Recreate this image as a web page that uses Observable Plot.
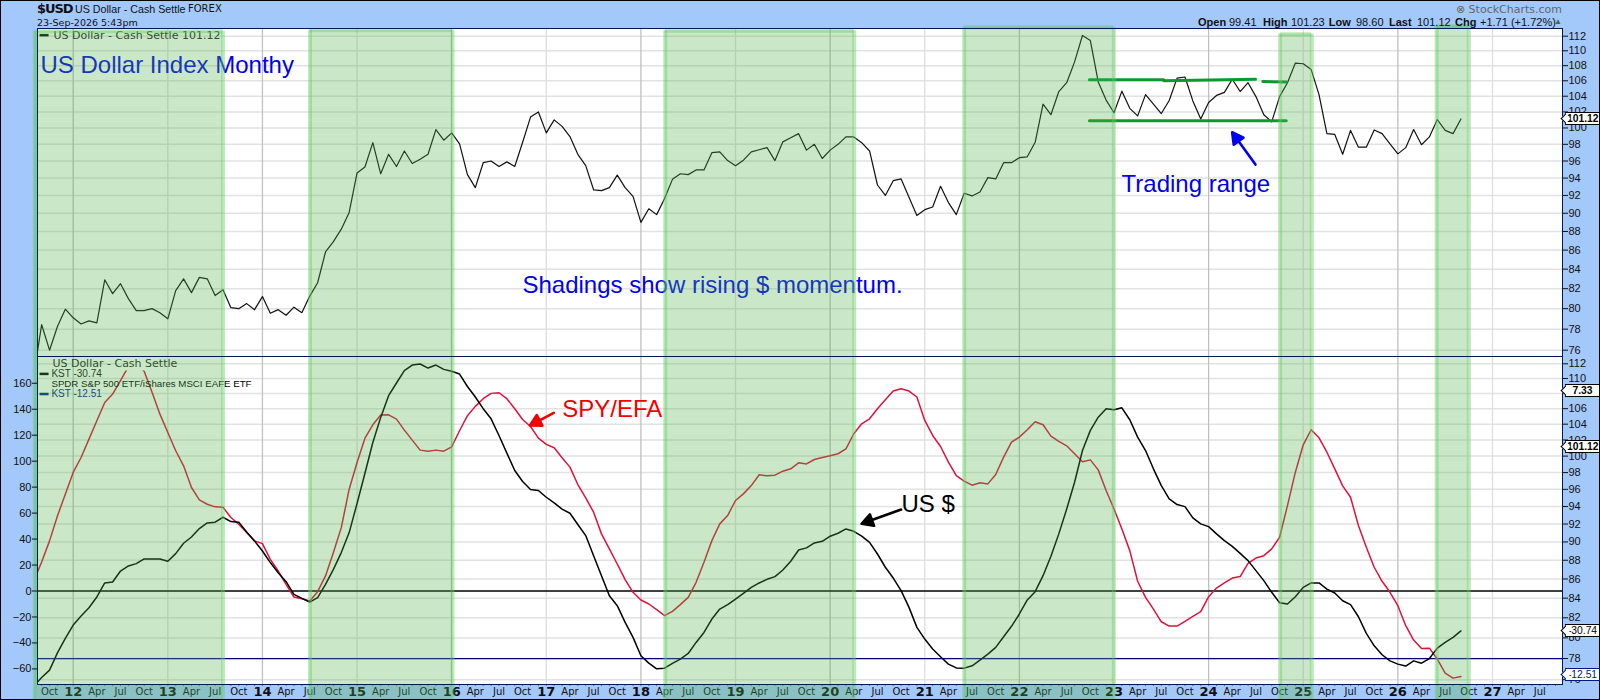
<!DOCTYPE html>
<html>
<head>
<meta charset="utf-8">
<script src="https://cdn.jsdelivr.net/npm/d3@7"></script>
<script src="https://cdn.jsdelivr.net/npm/@observablehq/plot@0.6"></script>
<style>
html,body{margin:0;padding:0;background:#a3c8fa;}
#chart{position:relative;width:1600px;height:700px;background:#a3c8fa;overflow:hidden;font-family:"Liberation Sans",sans-serif;color:#111;}
#chart svg{position:absolute;left:0;background:transparent;}
.hd{position:absolute;white-space:nowrap;}
.tag{position:absolute;left:1565px;width:31px;height:11px;line-height:11px;padding:0 1px;background:#fff;border:1px solid #000;font-size:10.3px;text-align:center;white-space:nowrap;}
.tag::before{content:"";position:absolute;left:-4px;top:2px;width:6px;height:6px;background:#fff;border-left:1px solid;border-bottom:1px solid;border-color:inherit;transform:rotate(45deg);}
#edge{position:absolute;inset:0;border:1px solid #000;pointer-events:none;}
</style>
</head>
<body>
<div id="chart"><div id="edge"></div></div>
<script>
// Monthly readings, Aug 2011 to Sep 2026
const firstMonth = 2011 + 7 / 12;
const usdIndex = [
  73.7,78.43,76.0,78.26,79.95,
  79.1,78.5,78.8,78.6,82.9,81.5,82.5,81.0,79.8,79.8,80.0,79.6,
  79.0,81.8,83.0,81.6,83.15,83.0,81.3,81.9,80.1,80.0,80.5,79.9,
  81.2,79.55,79.9,79.35,80.15,79.6,81.25,82.6,85.8,86.9,88.25,90.1,
  94.6,95.3,98.2,94.5,96.8,95.35,97.2,95.7,96.2,96.8,99.8,98.5,
  99.4,98.05,94.4,92.9,95.8,96.0,95.35,95.9,95.35,98.25,101.35,102.0,
  99.4,101.0,100.2,98.95,96.8,95.45,92.65,92.55,92.9,94.35,92.9,91.9,
  89.0,90.5,89.85,91.65,93.85,94.5,94.4,94.95,94.95,97.0,97.1,96.05,
  95.45,96.1,97.1,97.35,97.6,96.05,98.3,98.8,99.3,97.3,98.0,96.3,
  97.3,98.0,98.9,98.9,98.2,97.2,93.2,92.0,93.7,93.9,91.8,89.75,
  90.4,90.7,93.05,91.2,89.85,92.25,91.95,92.4,94.05,93.9,95.8,95.8,
  96.4,96.5,98.25,103.0,101.65,104.6,105.75,108.5,112.1,111.4,105.85,103.5,
  101.9,104.65,102.45,101.5,104.2,103.0,101.8,103.45,106.35,106.5,103.4,101.1,
  103.2,104.1,104.5,106.2,104.6,105.75,103.95,101.65,100.75,103.95,105.75,108.35,
  108.25,107.5,104.2,99.3,99.2,96.8,99.7,97.65,97.65,99.75,99.3,98.05,
  96.85,97.6,99.8,97.95,98.9,101.05,99.7,99.3,101.12
];
const usdKst = [
  -73.3,-66.6,-60.9,-47.6,-36.5,
  -26.2,-19.3,-12.9,-4.6,6.2,6.9,15.4,19.3,21.1,24.7,24.7,24.7,
  22.9,28.8,36.8,41.6,48.1,52.4,53,56.8,53.5,53,45.5,38.6,
  30.8,21.9,14.1,7.2,-2.6,-5.7,-8.5,-5.1,5.1,16.7,29.6,45,
  67.4,90.7,114.4,133.7,150.4,160.2,169.7,174,174.8,171.7,174,170.7,
  169.2,167.1,157.5,149.4,140.4,132.6,119.8,106.2,92.8,84.3,78.1,77.4,
  72.2,67.9,63,59.9,51.2,42.7,27.2,11.8,-3.6,-11.3,-24.2,-35.7,
  -49.9,-55.5,-59.9,-59.4,-55.8,-52.4,-48.1,-39.6,-31.9,-21.6,-13.9,-10.5,
  -6.2,-1.8,2.8,6.2,9,11.1,16.2,22.9,31.6,33.2,37,38.3,
  42.2,44.5,47.8,46,42.2,37.5,28.5,18.3,10,0.3,-12.6,-28,
  -37,-44.7,-50.6,-56.3,-59.2,-59.4,-57.6,-53.2,-48.6,-43.4,-35.2,-27.2,
  -17.7,-6.9,-0.5,11.8,26.7,44,63.2,83.8,108.2,123.7,133.9,140.4,
  139.6,141.1,131.9,118.5,108.2,94.1,81.2,71,66.6,65,56.3,51.7,
  49.6,44,38.8,34.4,29,23.4,15.7,8,-1,-9,-10,-4.4,
  2.8,6.2,6.2,1.5,-1.5,-7.5,-10.5,-19.8,-32.6,-42.2,-49.1,-53.8,
  -56.3,-57.8,-53.8,-55.6,-52,-44,-39.6,-35.7,-30.74
];
// SPY/EFA KST as it lies against the left-hand axis
const spyEfaKst = [
  7.7,22.4,38.6,57.8,74.6,
  91.3,102.8,117,131.1,145.2,151.7,162,172.8,174.8,169.2,153,136.2,
  122.1,108,96.4,79.7,70.2,66.8,64.8,64.5,56.6,51.4,45,38.6,
  36.5,24.4,15.4,5.1,-4.6,-5.9,-7.7,-0.5,11.6,29.6,48.8,78.4,
  99,117.7,128,135.5,135.7,132.4,123.9,116.2,108.5,107.7,108.5,107.7,
  111,123.4,135,142.2,148.1,152.2,152.7,148.1,140.4,132.1,126.7,117.7,
  112.9,110.3,102.6,95.4,82,71.7,60.7,44,32.4,20.8,8.7,-1,
  -6.9,-10,-14.4,-19,-15.7,-10.5,-4.9,6.7,22.1,38.8,51.7,58.1,
  69.7,74.8,81.2,89.5,88.7,89.2,92.3,94.1,98.7,97.9,101.3,102.8,
  104.1,105.7,109.5,121.1,128.8,132.6,140.4,147.3,154,155.8,154,149.4,
  131.4,119.8,111.3,99.2,88.9,84.6,81.5,83.3,82.5,89.7,103.1,114.7,
  118.5,124.2,130.3,128,119.3,115.2,111.8,105.7,99.5,101,93.3,77.4,
  63.2,47.8,31.1,7.5,-4.9,-13.9,-23.7,-27,-27,-23.4,-19.5,-15.9,
  -4.4,2.3,6.2,10,11.1,21.3,25.4,27.2,32.4,41.4,65.8,91.5,
  112.6,124.2,118,106.9,94.1,81,72.2,50.4,33.7,18.3,7.5,-1,
  -11.3,-26.7,-37.8,-44.2,-44,-52.4,-63.2,-67.1,-65.8
];
const shadingStart = [2011.594,2014.503,2018.257,2021.417,2024.756,2026.41];
const shadingEnd   = [2013.583,2016.009,2020.254,2022.998,2025.09,2026.75];
const shadingTopPrice = [112.69,112.83,112.75,113.26,112.28,113.4];
const yearTicks = d3.range(2012,2028);
const yearLabels = yearTicks.map(y => String(y % 100));
const monthNames = {3:"Apr",6:"Jul",9:"Oct"};
const priceTicks = d3.range(76,113,2);
const kstTicks = d3.range(-60,161,20);
const rangeSegments = [
  [[2022.74,106.15],[2023.526,106.15]],
  [[2023.526,106.0],[2024.495,106.2]],
  [[2024.573,105.9],[2024.82,105.85]],
  [[2022.74,100.9],[2024.82,100.9]]
];
const kstZero = 0, kstLower = -52;

const n = usdIndex.length;
const rows = d3.range(n).map(i => ({t:firstMonth+i/12, usd:usdIndex[i], kst:usdKst[i], spy:spyEfaKst[i]}));
const allMonths = d3.range(-5,193).map(i => 2012+i/12).filter(t => t>2011.63 && t<2027.73);
const monthOf = t => Math.round((t-Math.floor(t+1e-6))*12);
const xDomain = [2011.6227,2027.74];
const W = 1600, L = 37, R = 1562;
const sans = "Liberation Sans, sans-serif", dejavu = "DejaVu Sans, sans-serif";
const shades = shadingStart.map((s,i) => ({s, e:shadingEnd[i], top:shadingTopPrice[i]}));
const shadeFill = "#4eb248", shadeOpacity = 0.30, borderColor = "#62cc62", shadeBorderOpacity = 0.42;

const isEven = y => y % 2 === 0;
const grids = [
  Plot.ruleX(yearTicks.filter(isEven),{stroke:"#c0c0c0",strokeWidth:1.3}),
  Plot.ruleX(yearTicks.filter(y=>!isEven(y)),{stroke:"#dedede",strokeWidth:1.3})
];
function shadeBorders(yTop, yBottom, withTop){
  const m = [
    Plot.ruleX(shades,{x:d=>d.s,y1:yTop,y2:yBottom,stroke:borderColor,strokeOpacity:shadeBorderOpacity,strokeWidth:4}),
    Plot.ruleX(shades,{x:d=>d.e,y1:yTop,y2:yBottom,stroke:borderColor,strokeOpacity:shadeBorderOpacity,strokeWidth:4})
  ];
  if (withTop) m.push(Plot.ruleY(shades,{y:d=>d.top,x1:d=>d.s,x2:d=>d.e,stroke:borderColor,strokeOpacity:shadeBorderOpacity,strokeWidth:4}));
  return m;
}
function arrow(x,y,length,rotate,color){
  return Plot.vector([0],{x:()=>x,y:()=>y,length,rotate,anchor:"start",stroke:color,fill:color,strokeWidth:2.6,
    shape:{draw(c,l){const h=11,w=6;c.moveTo(0,0);c.lineTo(0,-l+h);c.moveTo(0,-l);c.lineTo(w,-l+h);c.lineTo(-w,-l+h);c.closePath();}}});
}
const big = {fontFamily:sans,fontSize:24,textAnchor:"start"};
const note = (label,x,y,fill) => Plot.text([label],{x:()=>x,y:()=>y,text:d=>d,fill,...big});
const small = (label,x,y,fill,font,size) => Plot.text([label],{x:()=>x,y:()=>y,text:d=>d,fill,fontFamily:font,fontSize:size,textAnchor:"start"});

// top panel: price
const topPanel = Plot.plot({
  width:W,height:356,marginTop:28,marginBottom:0,marginLeft:L,marginRight:W-R,
  x:{domain:xDomain,axis:null,label:null},
  y:{type:"log",domain:[75.41,113.07],axis:null,label:null},
  marks:[
    Plot.frame({fill:"#fff"}),
    Plot.gridY(priceTicks,{stroke:"#e2e2e2",strokeOpacity:1,strokeWidth:1.5}),
    ...grids,
    Plot.line(rows,{x:"t",y:"usd",stroke:"#111",strokeWidth:1.2,clip:"frame"}),
    ...rangeSegments.map(s => Plot.line(s,{x:d=>d[0],y:d=>d[1],stroke:"#0b9a30",strokeWidth:3})),
    note("US Dollar Index Monthy",2011.654,108.05,"#0000f0"),
    note("Trading range",2023.08,93.26,"#0000f0"),
    note("Shadings show rising $ momentum.",2016.748,82.3,"#0000f0"),
    arrow(2024.495,95.58,39.8,-35.8,"#0000f0"),
    Plot.ruleY([112.14],{x1:2011.65,x2:2011.745,stroke:"#111",strokeWidth:2.5}),
    small("US Dollar - Cash Settle 101.12",2011.792,112.14,"#222",dejavu,11),
    Plot.rect(shades,{x1:d=>d.s,x2:d=>d.e,y1:d=>d.top,y2:75.41,fill:shadeFill,fillOpacity:shadeOpacity}),
    ...shadeBorders(d=>d.top,75.41,true),
    Plot.frame({stroke:"#001a4d",strokeWidth:1}),
    Plot.axisY(priceTicks,{anchor:"right",label:null,tickSize:5,tickPadding:1,tickFormat:d=>d,fontFamily:sans,fontSize:11,fill:"#111"})
  ]
});
topPanel.style.top = "0px";

// bottom panel, price grid behind the indicators
const priceGrid = Plot.plot({
  width:W,height:344,marginTop:0,marginBottom:16,marginLeft:L,marginRight:W-R,
  x:{domain:xDomain,axis:null,label:null},
  y:{type:"log",domain:[75.55,113.01],axis:null,label:null},
  marks:[
    Plot.frame({fill:"#fff"}),
    Plot.gridY(priceTicks,{stroke:"#e2e2e2",strokeOpacity:1,strokeWidth:1.5}),
    ...grids,
    Plot.axisY(priceTicks,{anchor:"right",label:null,tickSize:5,tickPadding:1,tickFormat:d=>d,fontFamily:sans,fontSize:11,fill:"#111"})
  ]
});
priceGrid.style.top = "356px";

// bottom panel, indicators
const kstBottom = -72, kstTop = 180.6, shadeFoot = -84.5;
const kstPanel = Plot.plot({
  width:W,height:344,marginTop:0,marginBottom:16,marginLeft:L,marginRight:W-R,
  x:{domain:xDomain,axis:null,label:null},
  y:{domain:[kstBottom,kstTop],axis:null,label:null},
  marks:[
    Plot.ruleY([kstZero],{stroke:"#000",strokeWidth:1.3}),
    Plot.ruleY([kstLower],{stroke:"#000080",strokeWidth:1.3}),
    Plot.line(rows,{x:"t",y:"spy",stroke:"#dc143c",strokeWidth:1.5,clip:"frame"}),
    Plot.line(rows,{x:"t",y:"kst",stroke:"#000",strokeWidth:1.5,clip:"frame"}),
    // the indicator legend's first row sits on a white band that hides the line peak
    Plot.rect([0],{x1:()=>2012.55,x2:()=>2012.87,y1:()=>169.5,y2:()=>kstTop,fill:"#fff"}),
    note("SPY/EFA",2017.168,140.3,"#f00000"),
    note("US $",2020.754,67.0,"#000"),
    arrow(2017.079,137.2,27,-117.9,"#f00000"),
    arrow(2020.75,62.7,42,-109.8,"#000"),
    small("US Dollar - Cash Settle",2011.78,175.2,"#222",dejavu,11),
    Plot.ruleY([167.2],{x1:2011.65,x2:2011.745,stroke:"#000",strokeWidth:2.5}),
    small("KST -30.74",2011.77,167.2,"#111",sans,10),
    small("SPDR S&P 500 ETF/iShares MSCI EAFE ETF",2011.77,159.3,"#000",sans,9.7),
    Plot.ruleY([151.7],{x1:2011.65,x2:2011.745,stroke:"#002080",strokeWidth:2.5}),
    small("KST -12.51",2011.77,151.7,"#002080",sans,10),
    Plot.ruleX(allMonths,{y1:kstBottom,y2:kstBottom-1.5,stroke:"#666",strokeWidth:1}),
    Plot.axisX(allMonths.filter(t=>monthNames[monthOf(t)]),{anchor:"bottom",label:null,tickSize:0,tickPadding:3,
      tickFormat:t=>monthNames[monthOf(t)],fontFamily:dejavu,fontSize:10,fill:"#111"}),
    Plot.axisX(yearTicks,{anchor:"bottom",label:null,tickSize:0,tickPadding:2,tickFormat:y=>yearLabels[y-2012],fontFamily:dejavu,fontWeight:"bold",fontSize:13,fill:"#111"}),
    Plot.rect(shades,{x1:d=>d.s,x2:d=>d.e,y1:kstTop,y2:shadeFoot,fill:shadeFill,fillOpacity:shadeOpacity}),
    ...shadeBorders(kstTop,shadeFoot,false),
    Plot.frame({stroke:"#001a4d",strokeWidth:1}),
    Plot.axisY(kstTicks,{anchor:"left",label:null,tickSize:5,tickPadding:1,fontFamily:sans,fontSize:11,fill:"#111"})
  ]
});
kstPanel.style.top = "356px";

const chart = document.getElementById("chart");
chart.prepend(topPanel, priceGrid, kstPanel);

// header
function hd(text,style){const d=document.createElement("div");d.className="hd";d.textContent=text;Object.assign(d.style,style);chart.appendChild(d);return d;}
hd("$USD",{left:"37px",top:"1px",font:"bold 13px 'DejaVu Sans',sans-serif",letterSpacing:"-1.1px"});
hd("US Dollar - Cash Settle",{left:"75px",top:"3px",fontSize:"10.7px"});
hd("FOREX",{left:"188px",top:"3px",font:"10px 'DejaVu Sans',sans-serif"});
hd("23-Sep-2026 5:43pm",{left:"37px",top:"17px",font:"9.5px 'DejaVu Sans',sans-serif"});
hd("\u2297 StockCharts.com",{right:"38px",top:"3px",font:"11px 'DejaVu Sans',sans-serif",color:"#666"});
const quoteX = [1198,1229,1263,1291,1328.7,1356,1389,1417,1455,1480];
const quoteText = ["Open","99.41","High","101.23","Low","98.60","Last","101.12","Chg","+1.71 (+1.72%)"];
quoteText.forEach((q,i)=>hd(q,{left:quoteX[i]+"px",top:"16px",fontSize:"11px",fontWeight:i%2?"normal":"bold"}));
hd("\u25B2",{left:"1554px",top:"17px",fontSize:"8px",color:"#3a6b3a"});

// last-value tags, placed through the panels' own y scales
const priceY = topPanel.scale("y"), gridY = priceGrid.scale("y"), kstY = kstPanel.scale("y");
const tags = [
  {label:"101.12",py:priceY.apply(101.12),bold:true,color:"#000"},
  {label:"7.33",py:356+kstY.apply(154.4),bold:true,color:"#000"},
  {label:"101.12",py:356+gridY.apply(101.12),bold:true,color:"#000"},
  {label:"-30.74",py:356+kstY.apply(-30.74),bold:false,color:"#000"},
  {label:"-12.51",py:356+kstY.apply(-64.5),bold:false,color:"#001a80"}
];
for (const t of tags){
  const d=document.createElement("div");d.className="tag";d.textContent=t.label;
  d.style.top=(t.py-6.5)+"px";d.style.fontWeight=t.bold?"bold":"normal";d.style.color=t.color;d.style.borderColor=t.color;
  chart.appendChild(d);
}
</script>
</body>
</html>
